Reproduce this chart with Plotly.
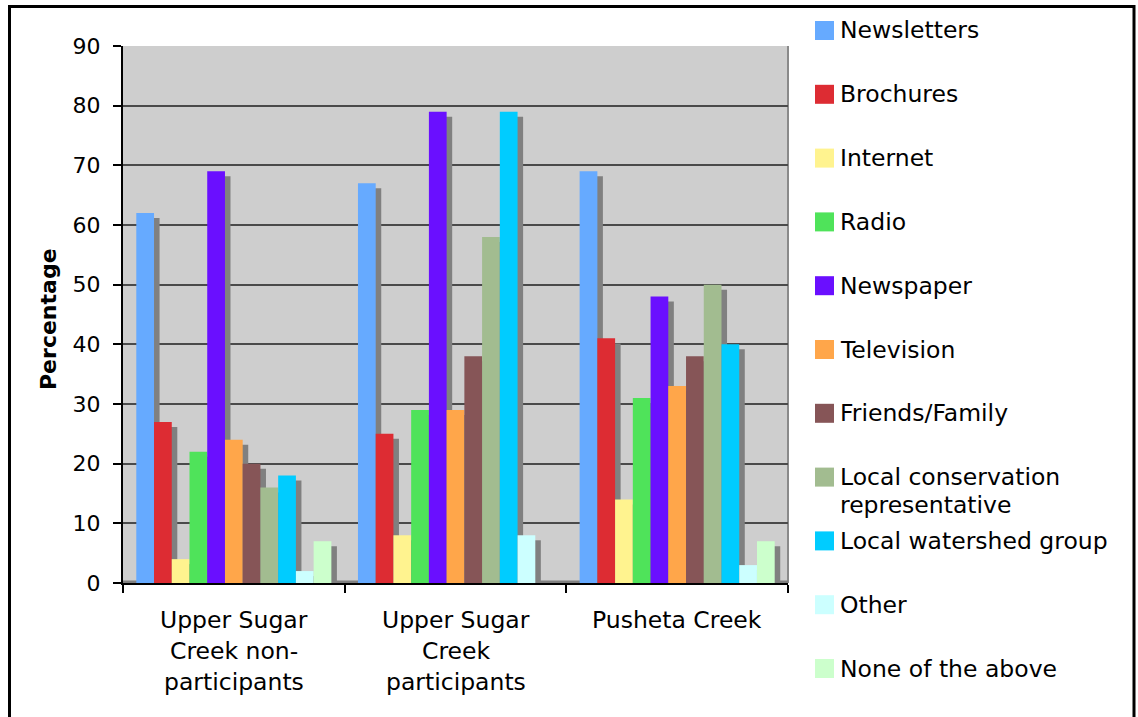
import plotly.graph_objects as go

# Survey responses: where people get their information, by group (percent)
groups = ["Upper Sugar Creek non-participants",
          "Upper Sugar Creek participants",
          "Pusheta Creek"]
group_lines = [["Upper Sugar", "Creek non-", "participants"],
               ["Upper Sugar", "Creek", "participants"],
               ["Pusheta Creek"]]

sources = ["Newsletters", "Brochures", "Internet", "Radio", "Newspaper",
           "Television", "Friends/Family", "Local conservation representative",
           "Local watershed group", "Other", "None of the above"]
legend_labels = ["Newsletters", "Brochures", "Internet", "Radio", "Newspaper",
                 "Television", "Friends/Family",
                 ["Local conservation", "representative"],
                 "Local watershed group", "Other", "None of the above"]

newsletters = [62, 67, 69]
brochures = [27, 25, 41]
internet = [4, 8, 14]
radio = [22, 29, 31]
newspaper = [69, 79, 48]
television = [24, 29, 33]
friends_family = [20, 38, 38]
local_conservation = [16, 58, 50]
local_watershed = [18, 79, 40]
other = [2, 8, 3]
none_of_above = [7, 0, 7]

series = [newsletters, brochures, internet, radio, newspaper, television,
          friends_family, local_conservation, local_watershed, other,
          none_of_above]

colors = ["#66AAFF", "#DD2C33", "#FFF38F", "#4FE35A", "#6A0FFF", "#FFA64A",
          "#865557", "#A2BC90", "#00CCFF", "#CCFFFF", "#CCFFCC"]

FONT = "DejaVu Sans"
TEXT_SIZE = 23.5
TICK_SIZE = 22
W, H = 1138, 717
L, R, T, B = 123, 788, 46, 583          # plot area in pixels
BAR_W = 0.08
START = -0.44
SHADOW_DX = 0.025                        # side face, in category units
SHADOW_DY = 0.84                         # side face drop, in value units


def px(x):
    return (x - L) / (R - L)


def py(y):
    return (B - y) / (B - T)


fig = go.Figure()

# side faces (drawn first so the neighbouring bar covers them)
for i, vals in enumerate(series):
    fig.add_trace(go.Bar(
        x=groups, y=[max(v - SHADOW_DY, 0) if v > 0 else 0 for v in vals],
        offset=START + i * BAR_W + SHADOW_DX, width=BAR_W,
        marker=dict(color="#808080", line=dict(width=0)),
        showlegend=False, hoverinfo="skip"))

for i, (name, vals) in enumerate(zip(sources, series)):
    fig.add_trace(go.Bar(
        x=groups, y=vals, name=name,
        offset=START + i * BAR_W, width=BAR_W,
        marker=dict(color=colors[i], line=dict(width=0)),
        showlegend=False))

shapes = []
annotations = []

# right wall edge
shapes.append(dict(type="line", xref="paper", yref="paper",
                   x0=1, x1=1, y0=0, y1=1,
                   line=dict(color="#8a8a8a", width=2), layer="below"))
# floor strip
shapes.append(dict(type="rect", xref="paper", yref="paper",
                   x0=0, x1=1, y0=0, y1=py(580.5),
                   fillcolor="#808080", line=dict(width=0), layer="below"))

# outer frame
shapes.append(dict(type="rect", xref="paper", yref="paper",
                   x0=px(9.5), x1=px(1134), y0=py(6.5), y1=py(730),
                   line=dict(color="black", width=3), fillcolor="rgba(0,0,0,0)"))

# category labels
for g, lines in zip(groups, group_lines):
    for k, line in enumerate(lines):
        annotations.append(dict(
            x=g, xref="x", y=py(620 + 31 * k), yref="paper",
            text=line, showarrow=False, xanchor="center", yanchor="middle",
            font=dict(family=FONT, size=TEXT_SIZE, color="black")))

# legend
for i, lab in enumerate(legend_labels):
    cy = 30.5 + 63.8 * i
    shapes.append(dict(type="rect", xref="paper", yref="paper",
                       x0=px(815), x1=px(834), y0=py(cy - 9.5), y1=py(cy + 9.5),
                       fillcolor=colors[i], line=dict(width=0)))
    lines = lab if isinstance(lab, list) else [lab]
    for k, line in enumerate(lines):
        annotations.append(dict(
            x=px(838), xref="paper", y=py(cy + 28 * k), yref="paper",
            text=line, showarrow=False, xanchor="left", yanchor="middle",
            font=dict(family=FONT, size=TEXT_SIZE, color="black")))

# y-axis title
annotations.append(dict(
    x=px(48), xref="paper", y=py(319), yref="paper",
    text="<b>Percentage</b>", textangle=-90, showarrow=False,
    xanchor="center", yanchor="middle",
    font=dict(family=FONT, size=22, color="black")))

fig.update_layout(
    width=W, height=H,
    margin=dict(l=L, r=W - R, t=T, b=H - B),
    paper_bgcolor="white", plot_bgcolor="#CECECE",
    barmode="overlay",
    font=dict(family=FONT, size=TEXT_SIZE, color="black"),
    showlegend=False,
    shapes=shapes, annotations=annotations,
    xaxis=dict(type="category", range=[-0.5, 2.5], showticklabels=False,
               ticks="outside", tickson="boundaries", ticklen=8,
               tickcolor="black", tickwidth=1.5,
               showline=True, linecolor="black", linewidth=2,
               showgrid=False, zeroline=False),
    yaxis=dict(range=[0, 90], dtick=10, tick0=0,
               ticks="outside", ticklen=8, tickcolor="black", tickwidth=1.5,
               ticklabelstandoff=8,
               tickfont=dict(family=FONT, size=TICK_SIZE, color="black"),
               showline=True, linecolor="black", linewidth=2,
               showgrid=True, gridcolor="#4a4a4a", gridwidth=1.5,
               zeroline=False),
)

fig.write_html("out.html")
